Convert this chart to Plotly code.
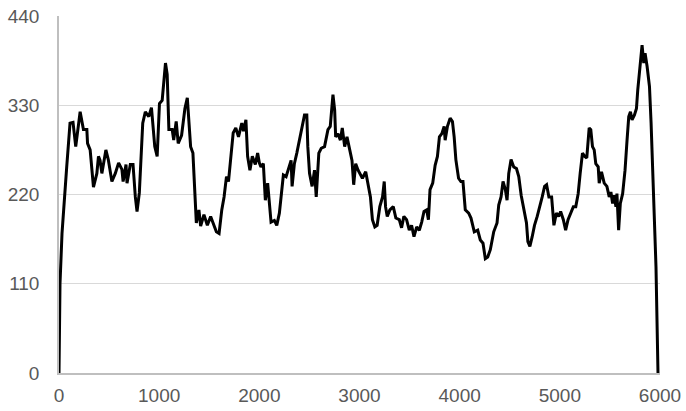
import plotly.graph_objects as go

x_vals = [0, 10, 30, 50, 77, 110, 140, 167, 211, 244, 278, 285, 311, 344, 378, 394, 410, 428, 468, 492,
          528, 562, 595, 628, 640, 669, 679, 712, 739, 762, 779, 802, 836, 862, 896, 923, 956, 980, 1003,
          1030, 1063, 1080, 1097, 1130, 1145, 1170, 1190, 1224, 1257, 1281, 1297, 1314, 1337, 1357, 1371,
          1397, 1414, 1447, 1481, 1514, 1548, 1571, 1598, 1625, 1648, 1672, 1692, 1715, 1739, 1765, 1792,
          1825, 1842, 1866, 1883, 1906, 1930, 1960, 1983, 2000, 2016, 2040, 2060, 2083, 2100, 2117, 2150,
          2174, 2200, 2217, 2240, 2267, 2294, 2317, 2327, 2350, 2374, 2400, 2427, 2451, 2474, 2484, 2501,
          2527, 2551, 2568, 2594, 2618, 2651, 2685, 2708, 2735, 2752, 2762, 2785, 2809, 2828, 2852, 2875,
          2902, 2925, 2942, 2962, 2986, 3009, 3029, 3062, 3086, 3109, 3129, 3153, 3176, 3203, 3230, 3247,
          3260, 3277, 3303, 3337, 3363, 3397, 3420, 3443, 3470, 3497, 3520, 3544, 3571, 3597, 3621, 3644,
          3671, 3688, 3704, 3731, 3755, 3778, 3798, 3822, 3845, 3855, 3878, 3905, 3928, 3945, 3962, 3989,
          4012, 4033, 4056, 4090, 4113, 4146, 4180, 4206, 4233, 4256, 4280, 4306, 4340, 4373, 4390, 4413,
          4433, 4456, 4473, 4490, 4513, 4540, 4567, 4590, 4614, 4640, 4667, 4681, 4701, 4724, 4747, 4774,
          4801, 4824, 4848, 4868, 4891, 4918, 4941, 4965, 4988, 5008, 5035, 5058, 5082, 5109, 5135, 5159,
          5183, 5203, 5226, 5249, 5269, 5293, 5309, 5326, 5343, 5359, 5383, 5393, 5416, 5443, 5470, 5493,
          5510, 5527, 5543, 5560, 5570, 5587, 5604, 5627, 5651, 5671, 5688, 5705, 5721, 5745, 5765, 5778,
          5795, 5811, 5821, 5838, 5851, 5871, 5895, 5911, 5928, 5945, 5960, 5980]

y_vals = [0, 110, 172, 213, 254, 308, 309, 279, 322, 300, 300, 283, 275, 229, 246, 267, 262, 246, 275, 263,
          236, 246, 259, 251, 236, 257, 234, 257, 257, 217, 199, 222, 308, 322, 316, 327, 279, 267, 332,
          336, 382, 368, 300, 300, 287, 310, 283, 293, 326, 339, 303, 279, 271, 213, 185,
          201, 181, 195, 182, 193, 183, 174, 172, 201, 217, 242, 236, 267, 296, 302, 291,
          308, 298, 312, 267, 250, 267, 257, 271, 259, 254, 258, 213, 234, 209, 186, 188,
          182, 197, 219, 244, 242, 254, 262, 230, 258, 271, 287, 304, 318, 318, 279, 246,
          230, 250, 217, 271, 277, 279, 300, 304, 343, 324, 291, 295, 287, 302, 279, 291,
          275, 262, 232, 258, 250, 244, 240, 248, 234, 217, 189, 180, 182, 205, 217, 236,
          205, 193, 201, 205, 191, 189, 179, 193, 189, 176, 182, 168, 180, 176, 186, 199,
          201, 189, 226, 234, 256, 267, 291, 295, 304, 287, 304, 314, 310, 291, 263, 240,
          236, 236, 201, 197, 191, 174, 176, 164, 160, 141, 143, 152, 174, 185, 207, 217,
          236, 226, 213, 246, 263, 254, 252, 242, 219, 203, 185, 162, 156, 168, 182, 193,
          205, 217, 230, 232, 217, 217, 182, 197, 193, 199, 189, 176, 189, 197, 205, 205,
          221, 246, 271, 267, 265, 302, 300, 279, 275, 258, 254, 234, 248, 234, 230, 217,
          223, 209, 219, 205, 221, 176, 209, 221, 250, 287, 316, 322, 312, 318, 326, 349,
          373, 390, 404, 382, 394, 378, 353, 308, 246, 197, 131, 0]

x_ticks = [0, 1000, 2000, 3000, 4000, 5000, 6000]
y_ticks = [0, 110, 220, 330, 440]

fig = go.Figure()
fig.add_trace(go.Scatter(x=x_vals, y=y_vals, mode="lines",
                         line=dict(color="#000000", width=3), showlegend=False,
                         hoverinfo="skip"))

fig.update_layout(
    width=686, height=411,
    margin=dict(l=59, r=26, t=16, b=38, autoexpand=False),
    plot_bgcolor="white", paper_bgcolor="white",
    font=dict(family="Liberation Sans, Arial, sans-serif", size=19, color="#595959"),
)
fig.update_xaxes(range=[0, 6000], tickvals=x_ticks, showgrid=False, zeroline=False,
                 showline=True, linecolor="#bfbfbf", linewidth=1.5, ticks="",
                 ticklabelstandoff=4, automargin=False)
fig.update_yaxes(range=[0, 440], tickvals=y_ticks, showgrid=True, gridcolor="#d9d9d9",
                 gridwidth=1, zeroline=False, showline=True, linecolor="#bfbfbf",
                 linewidth=1.5, ticks="", ticklabelstandoff=14, automargin=False)

fig.write_html("out.html", config={"displayModeBar": False},
               post_script="document.body.style.margin='0px';")
